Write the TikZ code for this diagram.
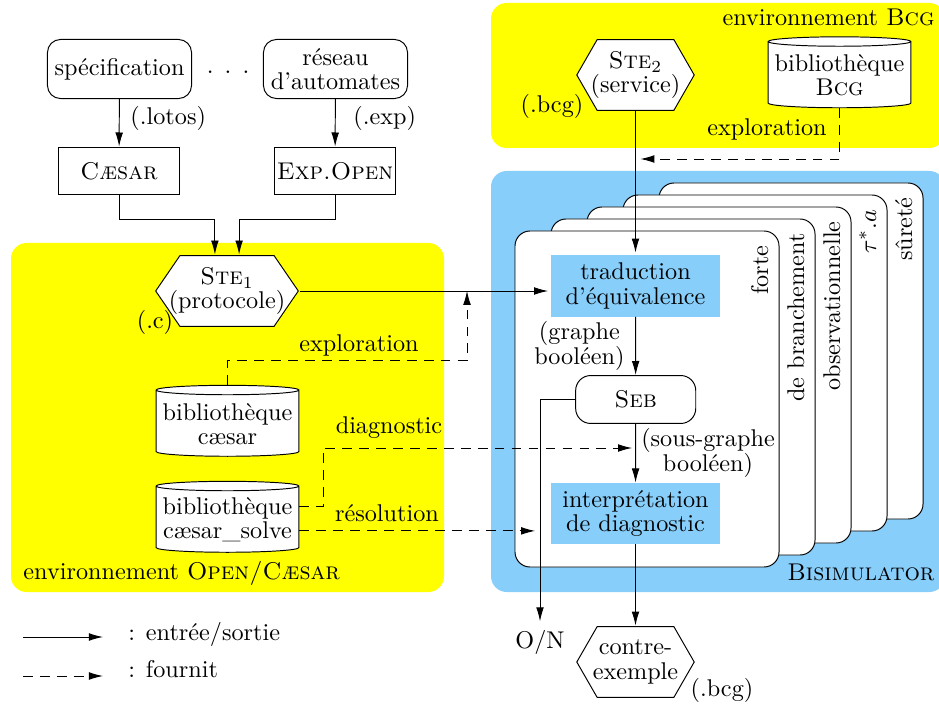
\documentclass[tikz,border=0pt]{standalone}
\usetikzlibrary{arrows.meta,shapes.geometric}

\definecolor{envyellow}{RGB}{255,255,0}
\definecolor{bisiblue}{RGB}{135,206,250}

\begin{document}
\begin{tikzpicture}[x=0.413pt, y=-0.413pt,
        io/.style={-{Latex[length=5.8pt,width=3.2pt]}},
        provides/.style={io, dash pattern=on 4pt off 3pt},
        inbox/.style={draw, rounded corners=5.4pt, minimum width=59.5pt, minimum height=24.4pt, align=center, inner sep=1pt},
        tool/.style={draw, minimum width=49.6pt, minimum height=19.8pt, inner sep=1pt},
        hexa/.style 2 args={minimum width=#1, minimum height=29.7pt, align=center, inner sep=1pt,
            path picture={\filldraw[fill=white]
                ([xshift=0.3pt]path picture bounding box.west)
                -- ([xshift=#2, yshift=-0.25pt]path picture bounding box.north west)
                -- ([xshift=-#2, yshift=-0.25pt]path picture bounding box.north east)
                -- ([xshift=-0.3pt]path picture bounding box.east)
                -- ([xshift=-#2, yshift=0.25pt]path picture bounding box.south east)
                -- ([xshift=#2, yshift=0.25pt]path picture bounding box.south west) -- cycle;}},
        lib/.style={draw, fill=white, cylinder, shape border rotate=90, aspect=0.07, minimum width=59pt, minimum height=29.3pt, align=center, inner sep=1pt},
        stage/.style={fill=bisiblue, minimum width=69.8pt, minimum height=25.2pt, align=center, inner sep=1pt},
        card/.style={draw, fill=white, rounded corners=6.2pt},
        cardlabel/.style={rotate=90, anchor=base east, inner sep=0pt},
        env/.style={rounded corners=6.5pt}]
        \useasboundingbox (0,0) rectangle (939,705);
        %\draw[help lines, step=50] (0,0) grid (939,705);

        % environnements
        \fill[envyellow, env] (11,243) rectangle (444,592);
        \fill[envyellow, env] (491,3) rectangle (945,148);
        \fill[bisiblue, env] (491,171) rectangle (945,592);
        \node[anchor=base west, inner sep=0pt] (envoc) at (23,579) {environnement \textsc{Open/Cæsar}};
        \node[anchor=base east, inner sep=0pt] (envbcg) at (935,26) {environnement \textsc{Bcg}};
        \node[anchor=base east, inner sep=0pt] (envbisi) at (935,580) {\textsc{Bisimulator}};

        % cartes des relations
        \foreach \i/\rel in {4/sûreté, 3/$\tau^*.a$, 2/observationnelle, 1/de branchement, 0/forte} {
            \draw[card] (515+36*\i,231-12*\i) rectangle (779+36*\i,567-12*\i);
            \node[cardlabel] at (768+36*\i,245-12*\i) {\rel};
        }

        % entrees
        \node[inbox] (spec) at (119.5,69) {spécification};
        \node (dots) at (228,72) {.\hspace{4.6pt}.\hspace{4.6pt}.};
        \node[inbox] (reseau) at (335.5,69) {réseau\\[-2pt]d'automates};
        \node[tool] (cesar) at (119,171) {\textsc{Cæsar}};
        \node[tool] (expopen) at (335,171) {\textsc{Exp.Open}};
        \node[anchor=west, inner sep=0pt] (lotos) at (130,118) {(.lotos)};
        \node[anchor=west, inner sep=0pt] (exp) at (353,118) {(.exp)};

        \node[hexa={59.5pt}{10.3pt}] (ste1) at (227,291) {\textsc{Ste}$_1$\\[-2pt](protocole)};
        \node (extc) at (155,322) {(.c)};
        \node[lib] (libcesar) at (227.5,424) {bibliothèque\\[-2pt]cæsar};
        \node[lib] (libsolve) at (227.5,520) {bibliothèque\\[-2pt]cæsar\_solve};
        \node (explo1) at (359,345) {exploration};
        \node (diag) at (389,428) {diagnostic};
        \node (resol) at (387,513) {résolution};

        % service et BCG
        \node[hexa={49.1pt}{8.7pt}] (ste2) at (635.5,75) {\textsc{Ste}$_2$\\[-2pt](service)};
        \node (extbcg1) at (552,106) {(.bcg)};
        \node[lib] (libbcg) at (839.5,75.5) {bibliothèque\\[-2pt]\textsc{Bcg}};
        \node (explo2) at (767,129) {exploration};

        % bisimulator
        \node[stage] (trad) at (635.5,286) {traduction\\[-2pt]d'équivalence};
        \node[draw, fill=white, rounded corners=6.2pt, minimum width=49.6pt, minimum height=19.8pt] (seb) at (635.7,399.5) {\textsc{Seb}};
        \node[stage] (interp) at (635.5,513.5) {interprétation\\[-2pt]de diagnostic};
        \node[anchor=east, align=center] (graphe) at (633,346) {(graphe\\[-2pt]booléen)};
        \node[align=center] (sousgraphe) at (708,453) {(sous-graphe\\[-2pt]booléen)};

        % sorties
        \node (on) at (540,642) {O/N};
        \node[hexa={49.1pt}{8.7pt}] (contre) at (635.5,662) {contre-\\[-2pt]exemple};
        \node (extbcg2) at (722,690) {(.bcg)};

        % entree/sortie
        \draw[io] (spec) -- (cesar);
        \draw[io] (reseau) -- (expopen);
        \draw[io] (cesar.south) -- ++(0,24) -| ([xshift=-5pt]ste1.north);
        \draw[io] (expopen.south) -- ++(0,24) -| ([xshift=5pt]ste1.north);
        \draw[io] (ste1.east) -- ([xshift=-1pt]ste1.east -| trad.west);
        \draw[io] (ste2) -- ([yshift=1pt]trad.north);
        \draw[io] (trad) -- (seb);
        \draw[io] (seb) -- (interp);
        \draw[io] (seb.west) -| (on.north);
        \draw[io] (interp) -- (contre);

        % fournit
        \draw[provides] (libcesar.north) |- ++(0,-24) -| ([yshift=-2pt]trad.west -| 467,0);
        \draw[provides] ([yshift=5.4pt]libsolve.east) -- ++(24,0) |- ([xshift=-1.5pt]seb.south |- 0,448);
        \draw[provides] ([yshift=-4.5pt]libsolve.east) -- ([xshift=-2pt, yshift=-4.5pt]libsolve.east -| on.north);
        \draw[provides] (libbcg.south) |- ([xshift=2pt]ste2.south |- 0,159);

        % legende
        \coordinate (io0) at (23,637);
        \coordinate (io1) at (103,637);
        \coordinate (fo0) at (23,676);
        \coordinate (fo1) at (103,676);
        \draw[io] (io0) -- (io1);
        \draw[provides] (fo0) -- (fo1);
        \node[anchor=west, inner sep=0pt] (iotxt) at (128,634) {: entrée/sortie};
        \node[anchor=west, inner sep=0pt] (fotxt) at (128,669) {: fournit};
    \end{tikzpicture}
\end{document}
